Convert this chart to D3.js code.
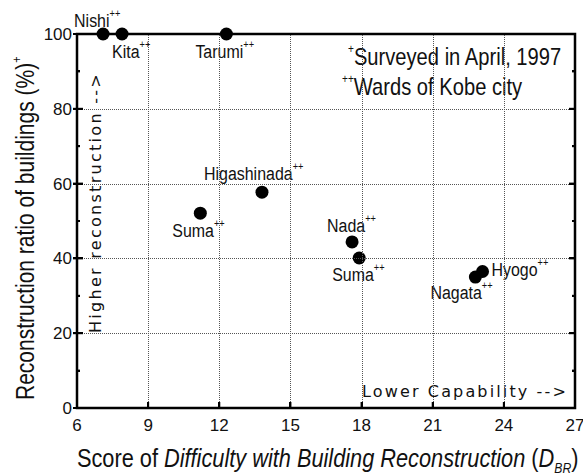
<!DOCTYPE html>
<html>
<head>
<meta charset="utf-8">
<script src="https://cdn.jsdelivr.net/npm/d3@7"></script>
</head>
<body style="margin:0;background:#fff">
<div id="wrap" style="position:relative;width:583px;height:475px">
<svg id="plot" width="583" height="475" style="position:absolute;left:0;top:0"></svg>
<div id="lines" style="position:absolute;left:0;top:0;width:583px;height:475px"></div>
</div>
<script>
// ward data (score of difficulty, reconstruction ratio)
var wards = ["Nishi", "Kita", "Tarumi", "Suma", "Higashinada", "Nada", "Suma", "Nagata", "Hyogo"];
var scores = [7.1, 7.9, 12.3, 11.2, 13.8, 17.6, 17.9, 22.8, 23.1];
var ratios = [100, 100, 100, 52.1, 57.7, 44.4, 40.1, 35.0, 36.5];
// label offsets relative to the dot (dx, dy of baseline)
var labelDx = [-29, -10, -31, -28, -58, -25, -27, -45, 9];
var labelDy = [-7, 24, 24, 24, -12, -10, 23, 22, 5];

var xTicks = [6, 9, 12, 15, 18, 21, 24, 27];
var yTicks = [0, 20, 40, 60, 80, 100];
var yMinor = [10, 30, 50, 70, 90];

var W = 583, H = 475;
var margin = {top: 34, right: 8, bottom: 67, left: 77};
var sans = "Liberation Sans, Arial, sans-serif";
var dejavu = "DejaVu Sans, Verdana, sans-serif";

var svg = d3.select("#plot");
var layer = d3.select("#lines");

var xs = d3.scaleLinear().domain([6, 27]).range([margin.left, W - margin.right]);
var ys = d3.scaleLinear().domain([0, 100]).range([H - margin.bottom, margin.top]);

var textLayer = svg.append("g");
var markLayer = svg.append("g");

//condensed text pieces laid one after another
function pieces(px, py, rot, sx, parts){
    var g = textLayer.append("g")
        .attr("transform", "translate(" + px + "," + py + ")" + (rot ? " rotate(" + rot + ")" : "") + " scale(" + sx + ",1)");
    var cx = 0;
    parts.forEach(function(p){
        var t = g.append("text")
            .attr("x", cx)
            .attr("y", p.shift || 0)
            .attr("font-family", sans)
            .attr("font-size", p.size)
            .attr("fill", "#111")
            .text(p.text);
        if (p.italic) t.attr("font-style", "italic");
        cx += t.node().getComputedTextLength();
    });
    return g;
}

//spread text to a given length with letter spacing
function spread(transform, str, target){
    var t = textLayer.append("text")
        .attr("transform", transform)
        .attr("font-family", dejavu)
        .attr("font-size", 16)
        .attr("fill", "#111")
        .text(str);
    var len = t.node().getComputedTextLength();
    t.attr("letter-spacing", (target - len) / str.length);
    return t;
}

//tick labels
textLayer.append("g").selectAll("text")
    .data(xTicks)
    .enter().append("text")
    .attr("x", function(d){ return xs(d); })
    .attr("y", ys(0) + 23)
    .attr("text-anchor", "middle")
    .attr("font-family", sans)
    .attr("font-size", 17)
    .attr("fill", "#111")
    .text(function(d){ return d; });

textLayer.append("g").selectAll("text")
    .data(yTicks)
    .enter().append("text")
    .attr("x", xs(6) - 5)
    .attr("y", function(d){ return ys(d) + 6; })
    .attr("text-anchor", "end")
    .attr("font-family", sans)
    .attr("font-size", 17)
    .attr("fill", "#111")
    .text(function(d){ return d; });

//point labels
wards.forEach(function(w, i){
    pieces(xs(scores[i]) + labelDx[i], ys(ratios[i]) + labelDy[i], 0, 0.84, [
        {text: w, size: 19},
        {text: "++", size: 11, shift: -10}
    ]);
});

//notes
pieces(348, 65, 0, 0.84, [
    {text: "+", size: 12, shift: -12},
    {text: "Surveyed in April, 1997", size: 24}
]);
pieces(342, 95, 0, 0.84, [
    {text: "++", size: 12, shift: -12},
    {text: "Wards of Kobe city", size: 24}
]);

spread("translate(362,397)", "Lower Capability -->", 206);
spread("translate(101,333) rotate(-90)", "Higher reconstruction -->", 261);

//axis titles
pieces(34, 400, -90, 0.84, [
    {text: "Reconstruction ratio of buildings (%)", size: 25},
    {text: "+", size: 13, shift: -13}
]);
pieces(77, 467, 0, 0.87, [
    {text: "Score of\u00a0", size: 25},
    {text: "Difficulty with Building Reconstruction", size: 25, italic: true},
    {text: "\u00a0(", size: 25},
    {text: "D", size: 25, italic: true},
    {text: "BR", size: 14, italic: true, shift: 6},
    {text: ")", size: 25}
]);

//svg frame and ticks
function seg(x1, y1, x2, y2, w){
    return markLayer.append("line")
        .attr("x1", x1).attr("y1", y1).attr("x2", x2).attr("y2", y2)
        .attr("stroke", "black")
        .attr("stroke-width", w);
}
xTicks.forEach(function(d){ seg(xs(d), ys(0), xs(d), ys(0) - 6, 2); });
yTicks.forEach(function(d){
    seg(xs(6) - 4, ys(d), xs(6) + 6, ys(d), 2);
    seg(xs(27) - 6, ys(d), xs(27), ys(d), 2);
});
yMinor.forEach(function(d){
    seg(xs(6), ys(d), xs(6) + 3, ys(d), 2);
    seg(xs(27) - 3, ys(d), xs(27), ys(d), 2);
});
markLayer.append("path")
    .attr("d", "M" + xs(6) + "," + ys(100) + "H" + xs(27) + "V" + ys(0) + "H" + xs(6) + "Z")
    .attr("fill", "none")
    .attr("stroke", "black")
    .attr("stroke-width", 2.5);

//the same lines again as html boxes above the svg
function box(left, top, width, height, css){
    var b = layer.append("div")
        .style("position", "absolute")
        .style("box-sizing", "border-box")
        .style("left", left + "px")
        .style("top", top + "px")
        .style("width", width + "px")
        .style("height", height + "px");
    for (var k in css) b.style(k, css[k]);
    return b;
}

//dotted grid
xTicks.slice(1, -1).forEach(function(d){
    box(Math.round(xs(d)), ys(100), 1, ys(0) - ys(100), {"border-left": "1px dotted #555"});
});
yTicks.slice(1, -1).forEach(function(d){
    box(xs(6), Math.round(ys(d)), xs(27) - xs(6), 1, {"border-top": "1px dotted #555"});
});

//ticks
xTicks.forEach(function(d){ box(xs(d) - 1, ys(0) - 6, 2, 6, {"background": "#000"}); });
yTicks.forEach(function(d){
    box(xs(6) - 4, ys(d) - 1, 10, 2, {"background": "#000"});
    box(xs(27) - 6, ys(d) - 1, 6, 2, {"background": "#000"});
});
yMinor.forEach(function(d){
    box(xs(6), ys(d) - 1, 3, 2, {"background": "#000"});
    box(xs(27) - 3, ys(d) - 1, 3, 2, {"background": "#000"});
});

//frame
box(xs(6) - 1.25, ys(100) - 1.25, xs(27) - xs(6) + 2.5, ys(0) - ys(100) + 2.5, {"border": "2.5px solid #000"});

//points
markLayer.append("g").selectAll("circle")
    .data(scores)
    .enter().append("circle")
    .attr("cx", function(d){ return xs(d); })
    .attr("cy", function(d, i){ return ys(ratios[i]); })
    .attr("r", 6.5)
    .attr("fill", "black");
</script>
</body>
</html>
